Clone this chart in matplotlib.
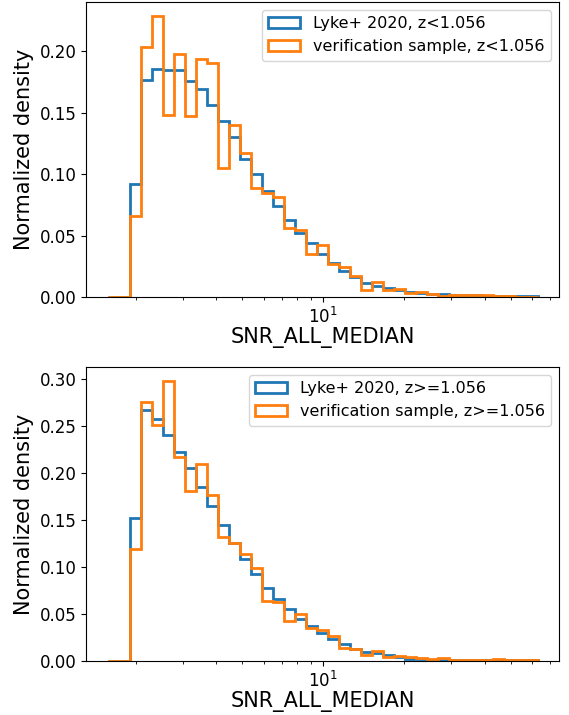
'''Normalized SNR_ALL_MEDIAN distributions, Lyke+ 2020 vs the
verification sample, split at z = 1.056.'''
import numpy as np
import matplotlib
matplotlib.use("Agg")
import matplotlib.pyplot as plt

# log spaced bins, 39 of them
EDGE_LO = 1.573
EDGE_HI = 62.8
N_BINS = 39

# z < 1.056, normalized density per bin
lyke_low = [0.0, 0.0, 0.0919, 0.1764, 0.1859, 0.1846, 0.1851, 0.1756,
            0.1697, 0.1561, 0.1434, 0.1304, 0.1120, 0.1000, 0.0864, 0.0740,
            0.0626, 0.0523, 0.0441, 0.0347, 0.0279, 0.0214, 0.0165, 0.0111,
            0.0090, 0.0070, 0.0057, 0.0043, 0.0030, 0.0024, 0.0022, 0.0016,
            0.0014, 0.0014, 0.0011, 0.0011, 0.0008, 0.0006, 0.0005]
verif_low = [0.0, 0.0, 0.0661, 0.2035, 0.2287, 0.1485, 0.1981, 0.1472,
             0.1940, 0.1905, 0.1054, 0.1404, 0.1176, 0.0884, 0.0848, 0.0810,
             0.0558, 0.0545, 0.0347, 0.0423, 0.0266, 0.0241, 0.0171, 0.0057,
             0.0120, 0.0057, 0.0065, 0.0030, 0.0037, 0.0024, 0.0011, 0.0018,
             0.0019, 0.0016, 0.0016, 0.0008, 0.0005, 0.0004, 0.0003]

# z >= 1.056
lyke_high = [0.0, 0.0, 0.1518, 0.2670, 0.2577, 0.2401, 0.2225, 0.2048,
             0.1854, 0.1653, 0.1448, 0.1257, 0.1080, 0.0920, 0.0778, 0.0657,
             0.0548, 0.0448, 0.0371, 0.0300, 0.0230, 0.0180, 0.0124, 0.0099,
             0.0085, 0.0064, 0.0046, 0.0025, 0.0021, 0.0014, 0.0006, 0.0010,
             0.0010, 0.0010, 0.0010, 0.0011, 0.0007, 0.0007, 0.0006]
verif_high = [0.0, 0.0, 0.1186, 0.2757, 0.2507, 0.2977, 0.2164, 0.1811,
              0.2094, 0.1766, 0.1317, 0.1257, 0.1133, 0.0985, 0.0640, 0.0628,
              0.0420, 0.0505, 0.0346, 0.0328, 0.0268, 0.0134, 0.0124, 0.0064,
              0.0110, 0.0039, 0.0053, 0.0046, 0.0030, 0.0018, 0.0032, 0.0010,
              0.0010, 0.0010, 0.0010, 0.0018, 0.0008, 0.0008, 0.0007]

labels_low = ["Lyke+ 2020, z<1.056", "verification sample, z<1.056"]
labels_high = ["Lyke+ 2020, z>=1.056", "verification sample, z>=1.056"]

edges = np.logspace(np.log10(EDGE_LO), np.log10(EDGE_HI), N_BINS + 1)


def draw_panel(ax, blue, orange, labels):
    '''Draw one pair of step histograms.'''
    ax.hist(edges[:-1], bins=edges, weights=blue, histtype="step",
            color="tab:blue", linewidth=2, label=labels[0])
    ax.hist(edges[:-1], bins=edges, weights=orange, histtype="step",
            color="tab:orange", linewidth=2, label=labels[1])
    ax.set_xscale("log")
    ax.set_xlabel("SNR_ALL_MEDIAN", fontsize=15, labelpad=0)
    ax.set_ylabel("Normalized density", fontsize=15)
    ax.tick_params(labelsize=12)
    ax.legend(fontsize=11.5, loc="upper right")


fig = plt.figure(figsize=(5.69, 7.15), dpi=100)
ax1 = fig.add_axes([86 / 569, 418 / 715, 473 / 569, 295 / 715])
ax2 = fig.add_axes([86 / 569, 54 / 715, 473 / 569, 294 / 715])

draw_panel(ax1, lyke_low, verif_low, labels_low)
draw_panel(ax2, lyke_high, verif_high, labels_high)

fig.savefig("out.png", dpi=100)
